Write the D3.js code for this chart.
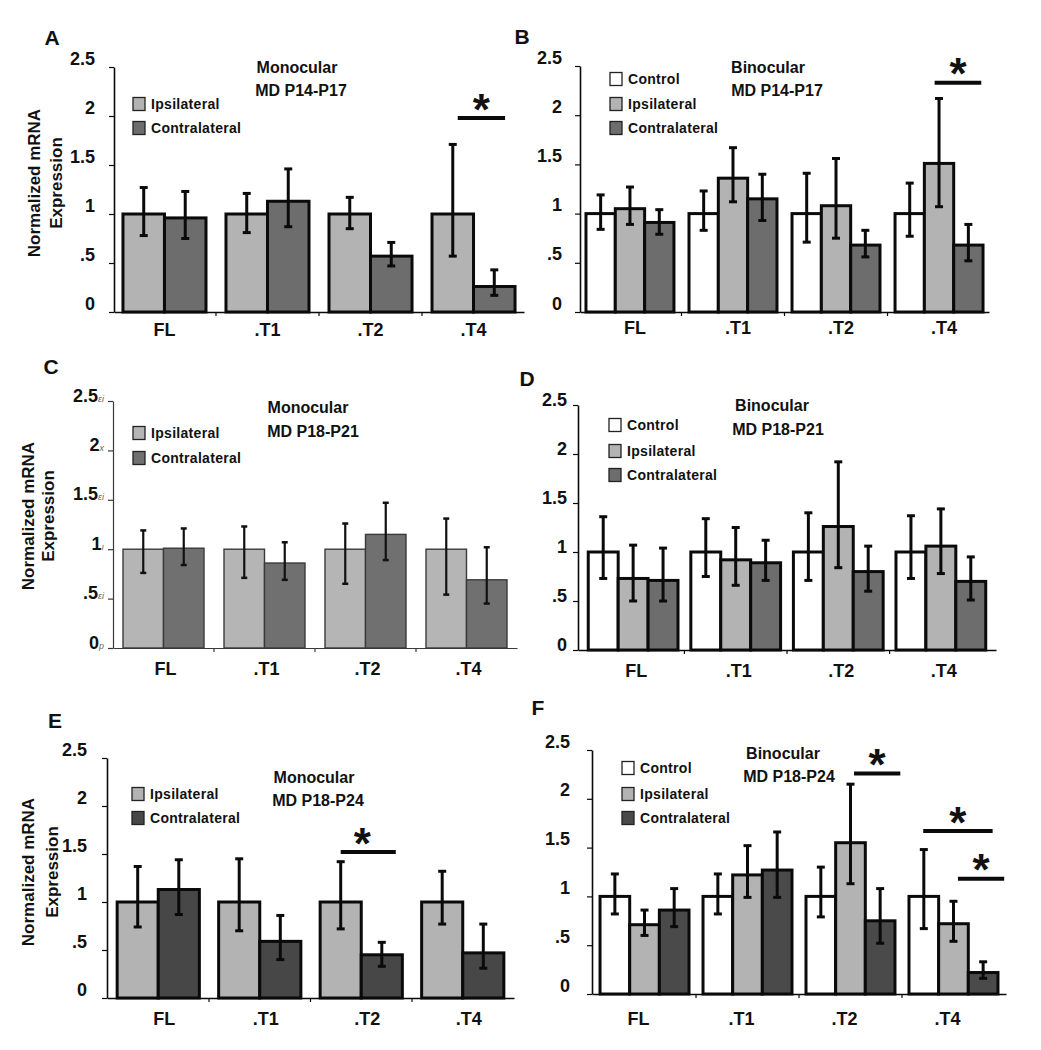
<!DOCTYPE html>
<html>
<head>
<meta charset="utf-8">
<script src="https://cdn.jsdelivr.net/npm/d3@7"></script>
<style>
  html, body { margin: 0; padding: 0; background: #fff; }
  svg text { font-family: "Liberation Sans", Arial, sans-serif; font-weight: bold; fill: #111; }
</style>
</head>
<body>
<svg id="chart" width="1041" height="1050"></svg>
<script>
// ---------------- DATA ----------------
const categories = ["FL", ".T1", ".T2", ".T4"];
const seriesNames = ["Control", "Ipsilateral", "Contralateral"];
const yTickValues = [0, 0.5, 1, 1.5, 2, 2.5];
const yTickLabels = ["0", ".5", "1", "1.5", "2", "2.5"];
const cTickMarks = ["p", "\u03b5i", "\u0131", "\u03b5i", "x", "\u03b5i"]; // stray marks beside panel C ticks
const yAxisTitle = ["Normalized mRNA", "Expression"];

// Panel A: Monocular MD P14-P17
const titleA = ["Monocular", "MD P14-P17"];
const aIpsi = [1.0, 1.0, 1.0, 1.0];
const aIpsiHi = [1.27, 1.21, 1.17, 1.71];
const aIpsiLo = [0.78, 0.81, 0.85, 0.57];
const aContra = [0.96, 1.13, 0.57, 0.26];
const aContraHi = [1.23, 1.46, 0.71, 0.43];
const aContraLo = [0.75, 0.87, 0.47, 0.17];
const sigA = [{ cat: ".T4", level: 1.98 }];

// Panel B: Binocular MD P14-P17
const titleB = ["Binocular", "MD P14-P17"];
const bCtrl = [1.0, 1.0, 1.0, 1.0];
const bCtrlHi = [1.19, 1.23, 1.41, 1.31];
const bCtrlLo = [0.84, 0.83, 0.71, 0.77];
const bIpsi = [1.05, 1.36, 1.08, 1.51];
const bIpsiHi = [1.27, 1.67, 1.56, 2.17];
const bIpsiLo = [0.89, 1.12, 0.75, 1.07];
const bContra = [0.91, 1.15, 0.68, 0.68];
const bContraHi = [1.04, 1.40, 0.83, 0.89];
const bContraLo = [0.79, 0.93, 0.56, 0.52];
const sigB = [{ cat: ".T4", level: 2.33 }];

// Panel C: Monocular MD P18-P21
const titleC = ["Monocular", "MD P18-P21"];
const cIpsi = [1.0, 1.0, 1.0, 1.0];
const cIpsiHi = [1.19, 1.23, 1.26, 1.31];
const cIpsiLo = [0.76, 0.71, 0.65, 0.54];
const cContra = [1.01, 0.86, 1.15, 0.69];
const cContraHi = [1.21, 1.07, 1.47, 1.02];
const cContraLo = [0.84, 0.69, 0.89, 0.45];
const sigC = [];

// Panel D: Binocular MD P18-P21
const titleD = ["Binocular", "MD P18-P21"];
const dCtrl = [1.0, 1.0, 1.0, 1.0];
const dCtrlHi = [1.36, 1.34, 1.40, 1.37];
const dCtrlLo = [0.73, 0.75, 0.71, 0.73];
const dIpsi = [0.73, 0.92, 1.26, 1.06];
const dIpsiHi = [1.07, 1.25, 1.92, 1.44];
const dIpsiLo = [0.50, 0.66, 0.84, 0.78];
const dContra = [0.71, 0.89, 0.80, 0.70];
const dContraHi = [1.04, 1.12, 1.06, 0.95];
const dContraLo = [0.50, 0.71, 0.60, 0.51];
const sigD = [];

// Panel E: Monocular MD P18-P24
const titleE = ["Monocular", "MD P18-P24"];
const eIpsi = [1.0, 1.0, 1.0, 1.0];
const eIpsiHi = [1.37, 1.45, 1.42, 1.32];
const eIpsiLo = [0.74, 0.70, 0.72, 0.77];
const eContra = [1.13, 0.59, 0.45, 0.47];
const eContraHi = [1.44, 0.86, 0.58, 0.77];
const eContraLo = [0.87, 0.40, 0.33, 0.31];
const sigE = [{ cat: ".T2", level: 1.52 }];

// Panel F: Binocular MD P18-P24
const titleF = ["Binocular", "MD P18-P24"];
const fCtrl = [1.0, 1.0, 1.0, 1.0];
const fCtrlHi = [1.23, 1.23, 1.30, 1.48];
const fCtrlLo = [0.82, 0.82, 0.79, 0.67];
const fIpsi = [0.71, 1.22, 1.55, 0.72];
const fIpsiHi = [0.86, 1.52, 2.15, 0.95];
const fIpsiLo = [0.60, 0.99, 1.13, 0.54];
const fContra = [0.86, 1.27, 0.75, 0.22];
const fContraHi = [1.08, 1.66, 1.08, 0.33];
const fContraLo = [0.69, 0.99, 0.52, 0.16];
const sigF = [{ cat: ".T2", level: 2.26 }, { cat: ".T4", level: 1.67 }, { cat: ".T4", level: 1.18 }];

// ---------------- LAYOUT / STYLE ----------------
const WHITE = "#ffffff", LIGHT = "#b3b3b3", MID = "#6d6d6d", DARK = "#474747";
const mk = (name, v, hi, lo, color) => ({ name, v, hi, lo, color });

const panels = [
  { letter: "A", letterPos: [52, 37], xr: [114, 524], yr: [312, 67], pi: 0.194, po: 0.087,
    tickGap: 14, tickDy: -2.5, xlDy: 24, xlDx: 0, title: titleA, titleX: [297, 301], titleY: [73, 96],
    legX: 133, legY: [104, 128], ylab: [34, 56, 183], sig: sigA, sigSpan: [[0.31, 0.88]], sigDx: [0],
    series: [mk(seriesNames[1], aIpsi, aIpsiHi, aIpsiLo, LIGHT), mk(seriesNames[2], aContra, aContraHi, aContraLo, MID)] },
  { letter: "B", letterPos: [522, 36], xr: [580, 989], yr: [312, 66], pi: 0.146, po: 0.058,
    tickGap: 13, tickDy: -3, xlDy: 22, xlDx: 5, title: titleB, titleX: [768, 777], titleY: [73, 96],
    legX: 610, legY: [79, 104, 128], sig: sigB, sigSpan: [[0.45, 0.98]], sigDx: [0],
    series: [mk(seriesNames[0], bCtrl, bCtrlHi, bCtrlLo, WHITE), mk(seriesNames[1], bIpsi, bIpsiHi, bIpsiLo, LIGHT), mk(seriesNames[2], bContra, bContraHi, bContraLo, MID)] },
  { letter: "C", letterPos: [51, 366], xr: [113, 517], yr: [648, 401], pi: 0.198, po: 0.099, thin: true,
    tickGap: 9, tickDy: 0, xlDy: 27, xlDx: 2, title: titleC, titleX: [308, 313], titleY: [413, 437],
    legX: 133, legY: [433, 458], ylab: [28.5, 48.5, 516], sig: sigC, sigSpan: [], sigDx: [],
    series: [mk(seriesNames[1], cIpsi, cIpsiHi, cIpsiLo, "#b5b5b5"), mk(seriesNames[2], cContra, cContraHi, cContraLo, "#707070")] },
  { letter: "D", letterPos: [527, 378], xr: [578, 996], yr: [650, 405], pi: 0.125, po: 0.1,
    tickGap: 6, tickDy: 0, xlDy: 27, xlDx: 3, title: titleD, titleX: [772, 778], titleY: [411, 435],
    legX: 609, legY: [425, 451, 475], sig: sigD, sigSpan: [], sigDx: [],
    series: [mk(seriesNames[0], dCtrl, dCtrlHi, dCtrlLo, WHITE), mk(seriesNames[1], dIpsi, dIpsiHi, dIpsiLo, LIGHT), mk(seriesNames[2], dContra, dContraHi, dContraLo, MID)] },
  { letter: "E", letterPos: [55, 720], xr: [107, 514], yr: [998, 758], pi: 0.19, po: 0.1,
    tickGap: 15, tickDy: -3, xlDy: 27, xlDx: 6, title: titleE, titleX: [314, 318], titleY: [783, 806],
    legX: 132, legY: [794, 818], ylab: [28, 52, 872], sig: sigE, sigSpan: [[0.25, 0.92]], sigDx: [-6],
    series: [mk(seriesNames[1], eIpsi, eIpsiHi, eIpsiLo, LIGHT), mk(seriesNames[2], eContra, eContraHi, eContraLo, DARK)] },
  { letter: "F", letterPos: [538, 707], xr: [592, 1006], yr: [994, 750], pi: 0.136, po: 0.078,
    tickGap: 17, tickDy: -3, xlDy: 31, xlDx: -6, title: titleF, titleX: [783, 789], titleY: [759, 782],
    legX: 622, legY: [768, 794, 818], sig: sigF, sigSpan: [[0.54, 1.06], [0.16, 0.94], [0.55, 1.07]], sigDx: [0, 0, 0],
    series: [mk(seriesNames[0], fCtrl, fCtrlHi, fCtrlLo, WHITE), mk(seriesNames[1], fIpsi, fIpsiHi, fIpsiLo, LIGHT), mk(seriesNames[2], fContra, fContraHi, fContraLo, "#4a4a4a")] }
];

// ---------------- DRAW ----------------
const svg = d3.select("#chart");
svg.append("rect").attr("width", 1041).attr("height", 1050).attr("fill", "#fff");

panels.forEach(p => {
  const g = svg.append("g");
  const x = d3.scaleBand().domain(categories).range(p.xr).paddingInner(p.pi).paddingOuter(p.po);
  const xs = d3.scaleBand().domain(p.series.map(s => s.name)).range([0, x.bandwidth()]);
  const y = d3.scaleLinear().domain([0, 2.5]).range(p.yr);
  const ink = p.thin ? "#3a3a3a" : "#0a0a0a";
  const barSW = p.thin ? 1.4 : 3;

  // y axis
  const ya = g.append("g").attr("transform", `translate(${p.xr[0]},0)`)
    .call(d3.axisLeft(y).tickValues(yTickValues).tickSize(5).tickSizeOuter(0)
      .tickPadding(p.tickGap).tickFormat((d, i) => yTickLabels[i]));
  ya.select(".domain").attr("stroke", ink).attr("stroke-width", p.thin ? 1.2 : 1.6);
  ya.selectAll(".tick line").attr("stroke", ink).attr("stroke-width", 1.2);
  ya.selectAll(".tick text").attr("dy", null).attr("y", p.tickDy)
    .style("font-size", "18px").attr("fill", "#111");
  if (p.thin) {
    ya.selectAll(".tick text").attr("x", -p.tickGap)
      .each(function (d, i) {
        d3.select(this).append("tspan").text(cTickMarks[i])
          .style("font-size", "9px").style("font-style", "italic").style("font-weight", "normal")
          .attr("fill", "#666");
      });
  }

  // x axis
  const xa = g.append("g").attr("transform", `translate(0,${y(0)})`)
    .call(d3.axisBottom(x).tickSize(0).tickSizeOuter(0).tickPadding(0));
  xa.select(".domain").attr("stroke", ink).attr("stroke-width", p.thin ? 1.2 : 1.6);
  xa.selectAll(".tick text").attr("dy", null).attr("y", p.xlDy).attr("dx", p.xlDx)
    .style("font-size", "18px").attr("fill", "#111");
  // small divider ticks between categories
  g.selectAll(null).data(categories.slice(1)).join("line")
    .attr("x1", c => x(c) - x.step() * x.paddingInner() / 2)
    .attr("x2", c => x(c) - x.step() * x.paddingInner() / 2)
    .attr("y1", y(0)).attr("y2", y(0) + 4)
    .attr("stroke", ink).attr("stroke-width", 1.2);

  // bars
  p.series.forEach(s => {
    g.selectAll(null).data(categories).join("rect")
      .attr("x", c => x(c) + xs(s.name))
      .attr("y", (c, i) => y(s.v[i]))
      .attr("width", xs.bandwidth())
      .attr("height", (c, i) => y(0) - y(s.v[i]))
      .attr("fill", s.color).attr("stroke", ink).attr("stroke-width", barSW);
  });
  // error bars
  p.series.forEach(s => {
    const cx = c => x(c) + xs(s.name) + xs.bandwidth() / 2;
    const eg = g.append("g").attr("stroke", p.thin ? "#111" : "#0a0a0a");
    eg.selectAll(null).data(categories).join("line")
      .attr("x1", cx).attr("x2", cx)
      .attr("y1", (c, i) => y(s.hi[i])).attr("y2", (c, i) => y(s.lo[i]))
      .attr("stroke-width", p.thin ? 2.2 : 3);
    [s.hi, s.lo].forEach(arr => {
      eg.selectAll(null).data(categories).join("line")
        .attr("x1", c => cx(c) - (p.thin ? 3 : 4)).attr("x2", c => cx(c) + (p.thin ? 3 : 4))
        .attr("y1", (c, i) => y(arr[i])).attr("y2", (c, i) => y(arr[i]))
        .attr("stroke-width", p.thin ? 2.5 : 3);
    });
  });

  // significance bars
  p.sig.forEach((sg, k) => {
    const span = p.sigSpan[k];
    const x1 = x(sg.cat) + span[0] * x.bandwidth();
    const x2 = x(sg.cat) + span[1] * x.bandwidth();
    const yy = y(sg.level);
    g.append("line").attr("x1", x1).attr("x2", x2).attr("y1", yy).attr("y2", yy)
      .attr("stroke", "#0a0a0a").attr("stroke-width", 4);
    g.append("text").attr("x", (x1 + x2) / 2 + p.sigDx[k]).attr("y", yy - 18 + 0.56 * 44)
      .attr("text-anchor", "middle").style("font-size", "44px").text("*");
  });

  // titles
  p.title.forEach((t, i) => {
    g.append("text").attr("x", p.titleX[i]).attr("y", p.titleY[i]).attr("text-anchor", "middle")
      .style("font-size", "16px").text(t);
  });

  // legend
  p.series.forEach((s, i) => {
    g.append("rect").attr("x", p.legX).attr("y", p.legY[i] - 6.5).attr("width", 12).attr("height", 13)
      .attr("fill", s.color).attr("stroke", "#222").attr("stroke-width", 1.3);
    g.append("text").attr("x", p.legX + 18).attr("y", p.legY[i] + 5)
      .style("font-size", "14px").style("letter-spacing", "0.3px").attr("fill", "#222").text(s.name);
  });

  // y-axis title (left-column panels)
  if (p.ylab) {
    [0, 1].forEach(i => {
      g.append("text").attr("transform", `translate(${p.ylab[i]},${p.ylab[2]}) rotate(-90)`)
        .attr("text-anchor", "middle").attr("dominant-baseline", "central")
        .style("font-size", "17px").text(yAxisTitle[i]);
    });
  }

  // panel letter
  g.append("text").attr("x", p.letterPos[0]).attr("y", p.letterPos[1])
    .attr("text-anchor", "middle").attr("dominant-baseline", "central")
    .style("font-size", "21px").text(p.letter);
});
</script>
</body>
</html>
